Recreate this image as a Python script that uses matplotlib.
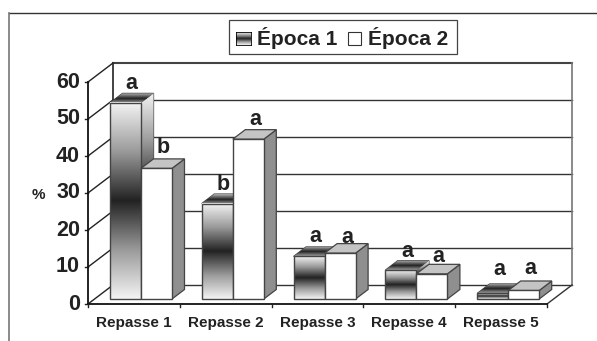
import numpy as np
import matplotlib
matplotlib.use("Agg")
import matplotlib.pyplot as plt
from matplotlib.patches import Polygon
from matplotlib.colors import LinearSegmentedColormap

categorias = ["Repasse 1", "Repasse 2", "Repasse 3", "Repasse 4", "Repasse 5"]
epoca1 = [53, 25.8, 11.5, 7.8, 1.5]
epoca2 = [35.3, 43.2, 12.4, 6.8, 2.3]
letras1 = ["a", "b", "a", "a", "a"]
letras2 = ["b", "a", "a", "a", "a"]
ticks_y = [0, 10, 20, 30, 40, 50, 60]

W, H = 597, 341
plt.rcParams['font.family'] = ['Liberation Sans', 'DejaVu Sans']
fig = plt.figure(figsize=(W / 100, H / 100), dpi=100)

# eixo = plano da frente do grafico
x0, x1, y0, y1 = 88, 547, 304, 82
ax = fig.add_axes([x0 / W, 1 - y0 / H, (x1 - x0) / W, (y0 - y1) / H])
ax.set_xlim(0, 5)
ax.set_ylim(0, 60)
ax.axis('off')

px = 5 / (x1 - x0)
py = 60 / (y0 - y1)
prof_x, prof_y = 25 * px, 19 * py  # profundidade do fundo

cinza = LinearSegmentedColormap.from_list('g', ['#f4f4f4', '#9a9a9a', '#222222', '#9a9a9a', '#f4f4f4'])
grad = np.linspace(0, 1, 256).reshape(-1, 1)

# paredes e grade
for v in ticks_y:
    if v < 60:
        ax.plot([prof_x, 5 + prof_x], [v + prof_y, v + prof_y], color='#333333', lw=1.0, clip_on=False, zorder=1)
    ax.plot([0, prof_x], [v, v + prof_y], color='#222222', lw=1.0, clip_on=False, zorder=1)
    ax.plot([-3.5 * px, 0], [v, v], color='#222222', lw=1.0, clip_on=False, zorder=1)
ax.plot([prof_x, 5 + prof_x], [60 + prof_y, 60 + prof_y], color='#444444', lw=1.5, clip_on=False, zorder=1)
ax.plot([prof_x, prof_x], [prof_y, 60 + prof_y], color='#222222', lw=1.2, clip_on=False, zorder=1)
ax.plot([5 + prof_x, 5 + prof_x], [prof_y, 60 + prof_y], color='#777777', lw=1.2, clip_on=False, zorder=1)
ax.plot([5, 5 + prof_x], [0, prof_y], color='#333333', lw=1.0, clip_on=False, zorder=1)
ax.plot([0, 5], [0, 0], color='#111111', lw=1.3, clip_on=False, zorder=1)
ax.plot([0, 0], [0, 60], color='#111111', lw=1.3, clip_on=False, zorder=1)
for i in range(6):
    ax.plot([i, i], [0, -3 * py], color='#222222', lw=1.0, clip_on=False, zorder=1)


def barra(x, larg, v, gradiente, z):
    dx, dy = 12.5 * px, 9.5 * py
    b = 5 * py
    lado = Polygon([(x + larg, b), (x + larg + dx, b + dy), (x + larg + dx, b + v + dy), (x + larg, b + v)],
                   fc='#8f8f8f', ec='#444444', lw=0.9, zorder=z, clip_on=False)
    topo = Polygon([(x, b + v), (x + dx, b + v + dy), (x + larg + dx, b + v + dy), (x + larg, b + v)],
                   fc='#c4c4c4', ec='#444444', lw=0.9, zorder=z, clip_on=False)
    frente = Polygon([(x, b), (x + larg, b), (x + larg, b + v), (x, b + v)],
                     fc='white', ec='#444444', lw=1.0, zorder=z + 0.2, clip_on=False)
    ax.add_patch(lado)
    ax.add_patch(topo)
    ax.add_patch(frente)
    if gradiente:
        ax.imshow(grad, cmap=cinza, aspect='auto', extent=(x, x + larg, b, b + v), zorder=z + 0.1, clip_on=False)
        frente.set_facecolor('none')
        im_lado = ax.imshow(grad, cmap=cinza, aspect='auto', extent=(x + larg, x + larg + dx, b + dy, b + v + dy),
                            zorder=z + 0.05)
        im_lado.set_clip_path(lado)
        im_topo = ax.imshow(np.linspace(0.2, 0.75, 32).reshape(-1, 1), cmap=cinza, vmin=0, vmax=1, aspect='auto',
                            extent=(x, x + larg + dx, b + v, b + v + dy), zorder=z + 0.05)
        im_topo.set_clip_path(topo)


larg = 31 * px
inicio = 22 * px
folga1 = [14, 14, 14, 13, 18]
folga2 = [15, 14, 10, 12, 16]
for i in range(len(categorias)):
    z = 10 + i * 2
    barra(i + inicio, larg, epoca1[i], True, z)
    barra(i + inicio + larg, larg, epoca2[i], False, z + 1)
    ax.text(i + inicio + larg * 0.7, 5 * py + epoca1[i] + folga1[i] * py, letras1[i], fontsize=15.5, fontweight='bold',
            ha='center', va='baseline', color='#222222', zorder=40, clip_on=False)
    ax.text(i + inicio + larg * 1.72, 5 * py + epoca2[i] + folga2[i] * py, letras2[i], fontsize=15.5, fontweight='bold',
            ha='center', va='baseline', color='#222222', zorder=40, clip_on=False)
    ax.text(i + 0.5, -19 * py, categorias[i], fontsize=11, fontweight='bold', ha='center', va='center',
            color='#222222', clip_on=False)

ax.set_xlim(0, 5)
ax.set_ylim(0, 60)

for v in ticks_y:
    ax.text(-8 * px, v, str(v), fontsize=15.5, fontweight='bold', ha='right', va='center', color='#222222', clip_on=False)
ax.text(-50 * px, 29.5, "%", fontsize=11, fontweight='bold', ha='center', va='center', color='#222222', clip_on=False)

# moldura externa
fig.add_artist(plt.Line2D([8.5 / W, 1], [1 - 12.5 / H, 1 - 12.5 / H], color='#333333', lw=1.0))
fig.add_artist(plt.Line2D([8.5 / W, 8.5 / W], [1 - 12.5 / H, 0], color='#777777', lw=1.2))

# legenda
fig.add_artist(plt.Rectangle((229 / W, 1 - 54 / H), 228 / W, 34 / H, fc='white', ec='#444444', lw=0.9))
leg = fig.add_axes([236 / W, 1 - 45 / H, 15 / W, 13 / H])
leg.imshow(grad, cmap=cinza, aspect='auto')
leg.set_xticks([])
leg.set_yticks([])
leg.set_zorder(5)
for s in leg.spines.values():
    s.set_linewidth(0.6)
fig.add_artist(plt.Rectangle((348 / W, 1 - 45 / H), 13 / W, 13 / H, fc='white', ec='#333333', lw=0.8, zorder=6))
fig.text(257 / W, 1 - 38 / H, "Época 1", fontsize=15, fontweight='bold', va='center', color='#222222', zorder=6)
fig.text(368 / W, 1 - 38 / H, "Época 2", fontsize=15, fontweight='bold', va='center', color='#222222', zorder=6)

fig.savefig('out.png', dpi=100)
